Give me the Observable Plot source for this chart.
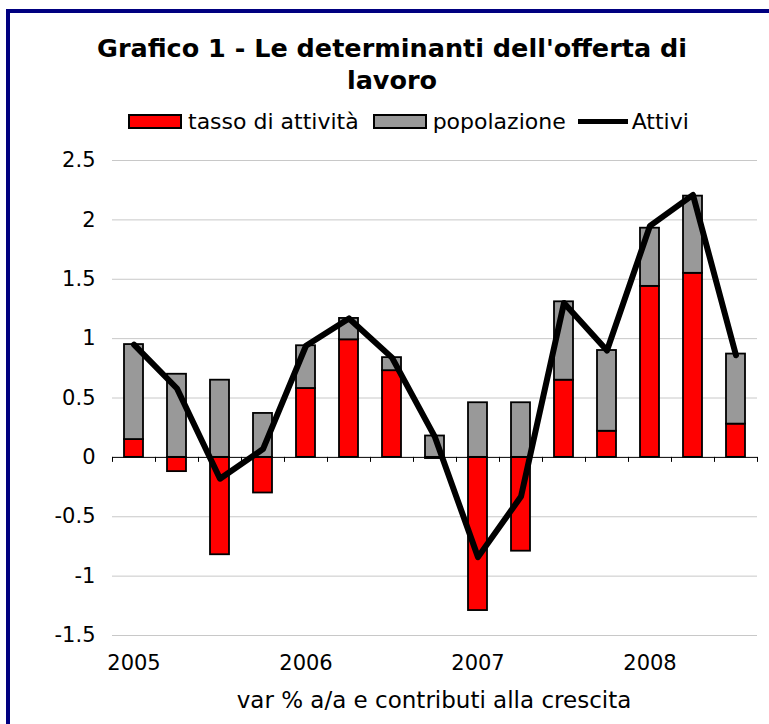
<!DOCTYPE html>
<html><head><meta charset="utf-8">
<script src="https://cdn.jsdelivr.net/npm/d3@7"></script>
<script src="https://cdn.jsdelivr.net/npm/@observablehq/plot@0.6"></script>
<style>
body{margin:0;background:#fff;}
#wrap{position:relative;width:769px;height:724px;overflow:hidden;font-family:"DejaVu Sans",Verdana,sans-serif;color:#000;background:#fff;}
#frame{position:absolute;left:6px;top:9px;width:900px;height:900px;border-top:4px solid #000080;border-left:4px solid #000080;box-sizing:border-box;}
#title{position:absolute;left:0;width:784px;top:32px;text-align:center;font-weight:bold;font-size:25.5px;line-height:32px;}
#legend{position:absolute;top:108px;left:128px;height:26px;display:flex;align-items:center;font-size:22px;white-space:nowrap;}
.sw{width:50px;height:11px;border:2px solid #000;margin-right:6px;}
.ln{width:50px;height:5px;background:#000;margin-right:4px;}
.item{display:flex;align-items:center;margin-right:14px;}
.item:nth-child(2){margin-right:12px;}
#chart{position:absolute;left:0;top:140px;}
#xtitle{position:absolute;left:134px;width:600px;top:687px;text-align:center;font-size:23px;line-height:26px;}
</style></head>
<body>
<div id="wrap">
  <div id="frame"></div>
  <div id="title">Grafico 1 - Le determinanti dell'offerta di<br>lavoro</div>
  <div id="legend"></div>
  <div id="chart"></div>
  <div id="xtitle">var % a/a e contributi alla crescita</div>
</div>
<script>
const quarters = ["2005Q1","2005Q2","2005Q3","2005Q4","2006Q1","2006Q2","2006Q3","2006Q4","2007Q1","2007Q2","2007Q3","2007Q4","2008Q1","2008Q2","2008Q3"];
const tasso = [0.15,-0.12,-0.82,-0.30,0.58,0.99,0.73,-0.01,-1.29,-0.79,0.65,0.22,1.44,1.55,0.28];
const popolazione = [0.80,0.70,0.65,0.37,0.36,0.18,0.11,0.18,0.46,0.46,0.66,0.68,0.49,0.65,0.59];
const attivi = [0.95,0.58,-0.18,0.07,0.94,1.17,0.84,0.17,-0.84,-0.33,1.30,0.90,1.95,2.21,0.86];
const seriesNames = ["tasso di attività","popolazione","Attivi"];
const seriesColors = ["#ff0000","#999999","#000000"];
const yTicks = [-1.5,-1,-0.5,0,0.5,1,1.5,2,2.5];

// legend
const leg = document.getElementById("legend");
seriesNames.forEach((n,i)=>{
  const it = document.createElement("div"); it.className="item";
  const s = document.createElement("div");
  if (i<2){ s.className="sw"; s.style.background=seriesColors[i]; } else { s.className="ln"; }
  it.appendChild(s);
  const t = document.createElement("span"); t.textContent=n; it.appendChild(t);
  leg.appendChild(it);
});

const bars = [];
quarters.forEach((q,i)=>{
  bars.push({q, s:seriesNames[0], v:tasso[i]});
  bars.push({q, s:seriesNames[1], v:popolazione[i]});
});
const line = quarters.map((q,i)=>({q, v:attivi[i]}));

const W=769, H=584, mL=112, mR=12, mT=20, mB=89;
const step = (W-mL-mR)/quarters.length;

const chart = Plot.plot({
  width:W, height:H, marginTop:mT, marginBottom:mB, marginLeft:mL, marginRight:mR,
  style:{fontFamily:"'DejaVu Sans', Verdana, sans-serif", fontSize:"21px", color:"#000", background:"transparent", overflow:"visible"},
  x:{type:"band", domain:quarters, padding:0, tickSize:0, tickPadding:20,
     tickFormat:q=>q.endsWith("Q1")?q.slice(0,4):"", label:null},
  y:{domain:[-1.5,2.5], ticks:yTicks, tickFormat:d=>String(d), tickSize:0, tickPadding:17, label:null},
  color:{domain:seriesNames.slice(0,2), range:seriesColors.slice(0,2)},
  marks:[
    Plot.ruleY(yTicks.filter(v=>v!==0), {stroke:"#c8c8c8", strokeWidth:1}),
    Plot.barY(bars, {x:"q", y:"v", fill:"s", stroke:"#000", strokeWidth:1.8, insetLeft:12, insetRight:12}),
    Plot.ruleY([0], {stroke:"#000", strokeWidth:1}),
    Plot.ruleX(quarters, {x:d=>d, y1:0, y2:0, dx:-step/2, insetBottom:-5, stroke:"#000"}),
    Plot.ruleX(quarters.slice(-1), {x:d=>d, y1:0, y2:0, dx:step/2, insetBottom:-5, stroke:"#000"}),
    Plot.line(line, {x:"q", y:"v", stroke:"#000", strokeWidth:6})
  ]
});
document.getElementById("chart").appendChild(chart);
</script>
</body></html>
